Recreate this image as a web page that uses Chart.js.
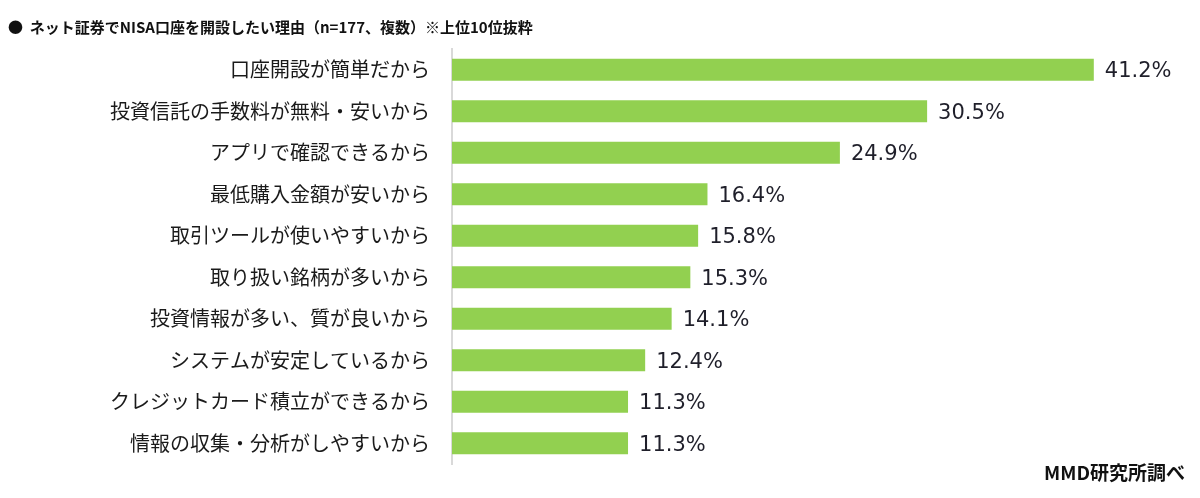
<!DOCTYPE html>
<html>
<head>
<meta charset="utf-8">
<script src="https://cdn.jsdelivr.net/npm/chart.js@4"></script>
<style>
  html, body { margin: 0; padding: 0; background: #fff; }
  #wrap { width: 1200px; height: 498px; }
</style>
</head>
<body>
<div id="wrap"><canvas id="reasons"></canvas></div>
<script>
// NISA reasons, top 10 (n=177, multiple answers)
const categories = [
    '口座開設が簡単だから',
    '投資信託の手数料が無料・安いから',
    'アプリで確認できるから',
    '最低購入金額が安いから',
    '取引ツールが使いやすいから',
    '取り扱い銘柄が多いから',
    '投資情報が多い、質が良いから',
    'システムが安定しているから',
    'クレジットカード積立ができるから',
    '情報の収集・分析がしやすいから',
];
const shares = [41.2, 30.5, 24.9, 16.4, 15.8, 15.3, 14.1, 12.4, 11.3, 11.3];

const BAR_GREEN = '#92D050';
const JP_FONT = "'Noto Sans CJK JP', 'Noto Sans', sans-serif";

// value labels at the end of each bar + source note
const valueLabels = {
    id: 'valueLabels',
    afterDatasetsDraw(chart) {
        const ctx = chart.ctx;
        const meta = chart.getDatasetMeta(0);
        ctx.save();
        ctx.font = "21px 'DejaVu Sans', sans-serif";
        ctx.fillStyle = '#1f1f2a';
        ctx.textAlign = 'left';
        ctx.textBaseline = 'middle';
        meta.data.forEach((bar, i) => {
            ctx.fillText(shares[i].toFixed(1) + '%', bar.x + 11, bar.y + 2);
        });
        ctx.restore();
    },
    afterDraw(chart) {
        const ctx = chart.ctx;
        ctx.save();
        ctx.font = 'bold 19px ' + JP_FONT;
        ctx.fillStyle = '#111';
        ctx.textAlign = 'right';
        ctx.textBaseline = 'middle';
        ctx.fillText('MMD研究所調べ', 1185, 473);
        ctx.restore();
    }
};

new Chart(document.getElementById('reasons'), {
    type: 'bar',
    data: {
        labels: categories,
        datasets: [{
            data: shares,
            backgroundColor: BAR_GREEN,
            borderWidth: 0,
            barPercentage: 0.53,
            categoryPercentage: 1.0,
        }]
    },
    options: {
        indexAxis: 'y',
        responsive: true,
        maintainAspectRatio: false,
        animation: false,
        layout: {
            padding: { left: 8, right: 47, top: 0, bottom: 29 }
        },
        scales: {
            x: {
                display: false,
                min: 0,
                max: 45,
            },
            y: {
                grid: { display: false, drawTicks: false },
                border: { display: true, color: '#d9d9d9', width: 2 },
                ticks: {
                    padding: 22,
                    color: '#1a1a1a',
                    font: { family: JP_FONT, size: 20 },
                },
                afterFit(scale) { scale.width = 444; },
            }
        },
        plugins: {
            legend: { display: false },
            tooltip: { enabled: false },
            title: {
                display: true,
                align: 'start',
                text: '●  ネット証券でNISA口座を開設したい理由（n=177、複数）※上位10位抜粋',
                color: '#111',
                font: { family: JP_FONT, size: 15, weight: 'bold' },
                padding: { top: 18, bottom: 13 },
            }
        }
    },
    plugins: [valueLabels]
});
</script>
</body>
</html>
